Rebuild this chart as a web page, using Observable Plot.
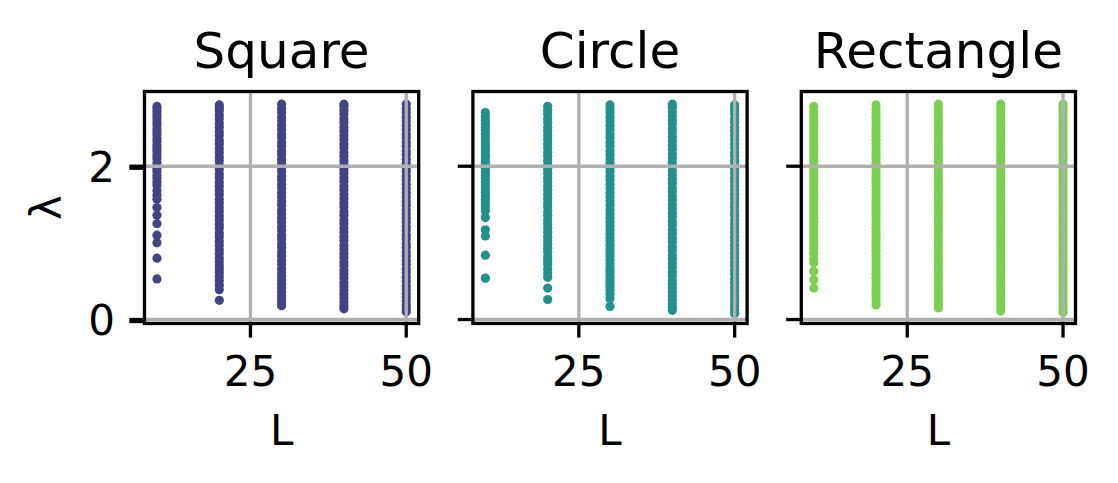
<!DOCTYPE html>
<html><head><meta charset="utf-8">
<script src="https://cdn.jsdelivr.net/npm/d3@7"></script>
<script src="https://cdn.jsdelivr.net/npm/@observablehq/plot@0.6"></script>
<style>html,body{margin:0;padding:0;background:#fff;overflow:hidden}</style>
</head><body><div id="chart"></div>
<script>
// Facets, x categories, ticks, colours
const shapes = ["Square", "Circle", "Rectangle"];
const colors = ["#414487", "#21918c", "#7ad151"];
const Ls = [10, 20, 30, 40, 50];
const xTicks = [25, 50];
const yTicks = [0, 2];

// λ values, one list per (shape, L) column
const squareL10 = [0.53,0.80,1.00,1.10,1.25,1.36,1.46,1.57,1.62,1.68,1.75,1.79,1.84,1.88,1.93,1.97,2.01,2.05,2.10,2.14,2.19,2.23,2.27,2.32,2.36,2.41,2.45,2.49,2.54,2.58,2.63,2.67,2.71,2.75,2.78];
const squareL20 = [0.25,0.39,0.45,0.51,0.56,0.61,0.66,0.70,0.75,0.80,0.86,0.91,0.97,1.02,1.08,1.13,1.19,1.24,1.30,1.35,1.41,1.46,1.52,1.57,1.63,1.68,1.74,1.79,1.85,1.90,1.96,2.01,2.07,2.12,2.18,2.23,2.29,2.34,2.40,2.45,2.51,2.56,2.62,2.67,2.73,2.77,2.80];
const squareL30 = [0.18,0.22,0.27,0.31,0.36,0.41,0.46,0.51,0.56,0.61,0.66,0.72,0.77,0.83,0.88,0.94,0.99,1.05,1.10,1.16,1.21,1.27,1.32,1.38,1.43,1.49,1.54,1.60,1.65,1.71,1.76,1.82,1.87,1.93,1.98,2.04,2.09,2.15,2.20,2.26,2.31,2.37,2.42,2.48,2.53,2.59,2.64,2.70,2.75,2.81];
const squareL40 = [0.14,0.18,0.23,0.28,0.33,0.38,0.43,0.48,0.54,0.59,0.64,0.70,0.75,0.81,0.86,0.92,0.97,1.03,1.08,1.14,1.19,1.25,1.30,1.36,1.41,1.47,1.52,1.58,1.63,1.69,1.74,1.80,1.85,1.91,1.96,2.02,2.07,2.13,2.18,2.24,2.29,2.35,2.40,2.46,2.51,2.57,2.62,2.68,2.73,2.78,2.81];
const squareL50 = [0.10,0.14,0.19,0.24,0.29,0.34,0.39,0.44,0.50,0.55,0.61,0.66,0.72,0.77,0.83,0.88,0.94,0.99,1.05,1.10,1.16,1.21,1.27,1.32,1.38,1.43,1.49,1.54,1.60,1.65,1.71,1.76,1.82,1.87,1.93,1.98,2.04,2.09,2.15,2.20,2.26,2.31,2.37,2.42,2.48,2.53,2.59,2.64,2.70,2.75,2.81];

const circleL10 = [0.54,0.84,1.09,1.17,1.33,1.42,1.47,1.52,1.57,1.61,1.66,1.70,1.75,1.79,1.84,1.88,1.93,1.97,2.02,2.06,2.11,2.15,2.20,2.24,2.29,2.33,2.38,2.42,2.47,2.51,2.56,2.60,2.65,2.70];
const circleL20 = [0.26,0.41,0.55,0.60,0.66,0.72,0.77,0.82,0.88,0.93,0.98,1.03,1.08,1.14,1.19,1.25,1.30,1.36,1.41,1.47,1.52,1.58,1.63,1.69,1.74,1.80,1.85,1.91,1.96,2.02,2.07,2.13,2.18,2.24,2.29,2.35,2.40,2.46,2.51,2.57,2.62,2.68,2.73,2.78];
const circleL30 = [0.17,0.27,0.33,0.38,0.43,0.47,0.51,0.55,0.60,0.64,0.68,0.73,0.78,0.83,0.88,0.92,0.97,1.02,1.07,1.12,1.17,1.22,1.27,1.32,1.38,1.43,1.49,1.54,1.60,1.65,1.71,1.76,1.82,1.87,1.93,1.98,2.04,2.09,2.15,2.20,2.26,2.31,2.37,2.42,2.48,2.53,2.59,2.64,2.70,2.75,2.80];
const circleL40 = [0.12,0.16,0.21,0.26,0.31,0.36,0.41,0.46,0.51,0.57,0.62,0.68,0.73,0.79,0.84,0.90,0.95,1.01,1.06,1.12,1.17,1.23,1.28,1.34,1.39,1.45,1.50,1.56,1.61,1.67,1.72,1.78,1.83,1.89,1.94,2.00,2.05,2.11,2.16,2.22,2.27,2.33,2.38,2.44,2.49,2.55,2.60,2.66,2.71,2.77,2.81];
const circleL50 = [0.08,0.12,0.17,0.22,0.27,0.32,0.37,0.42,0.48,0.53,0.59,0.64,0.70,0.75,0.81,0.86,0.92,0.97,1.03,1.08,1.14,1.19,1.25,1.30,1.36,1.41,1.47,1.52,1.58,1.63,1.69,1.74,1.80,1.85,1.91,1.96,2.02,2.07,2.13,2.18,2.24,2.29,2.35,2.40,2.46,2.51,2.57,2.62,2.68,2.73,2.78,2.80];

const rectangleL10 = [0.41,0.52,0.63,0.74,0.79,0.86,0.92,0.97,1.02,1.07,1.12,1.17,1.22,1.27,1.32,1.37,1.42,1.47,1.52,1.57,1.62,1.67,1.72,1.77,1.82,1.87,1.92,1.97,2.02,2.07,2.12,2.17,2.22,2.27,2.32,2.37,2.42,2.47,2.52,2.57,2.62,2.67,2.72,2.78];
const rectangleL20 = [0.19,0.24,0.29,0.34,0.39,0.44,0.49,0.54,0.59,0.64,0.69,0.74,0.79,0.84,0.89,0.94,0.99,1.04,1.09,1.14,1.19,1.24,1.29,1.34,1.39,1.44,1.49,1.54,1.59,1.64,1.69,1.74,1.79,1.84,1.89,1.94,1.99,2.04,2.09,2.14,2.19,2.24,2.29,2.34,2.39,2.44,2.49,2.54,2.59,2.64,2.69,2.74,2.80];
const rectangleL30 = [0.15,0.20,0.25,0.30,0.35,0.40,0.45,0.50,0.55,0.60,0.65,0.70,0.75,0.80,0.85,0.90,0.95,1.00,1.05,1.10,1.15,1.20,1.25,1.30,1.35,1.40,1.45,1.50,1.55,1.60,1.65,1.70,1.75,1.80,1.85,1.90,1.95,2.00,2.05,2.10,2.15,2.20,2.25,2.30,2.35,2.40,2.45,2.50,2.55,2.60,2.65,2.70,2.75,2.81];
const rectangleL40 = [0.11,0.16,0.21,0.26,0.31,0.36,0.41,0.46,0.51,0.56,0.61,0.66,0.71,0.76,0.81,0.86,0.91,0.96,1.01,1.06,1.11,1.16,1.21,1.26,1.31,1.36,1.41,1.46,1.51,1.56,1.61,1.66,1.71,1.76,1.81,1.86,1.91,1.96,2.01,2.06,2.11,2.16,2.21,2.26,2.31,2.36,2.41,2.46,2.51,2.56,2.61,2.66,2.71,2.76,2.81];
const rectangleL50 = [0.09,0.13,0.18,0.23,0.28,0.33,0.38,0.43,0.48,0.53,0.58,0.63,0.68,0.73,0.78,0.83,0.88,0.93,0.98,1.03,1.08,1.13,1.18,1.23,1.28,1.33,1.38,1.43,1.48,1.53,1.58,1.63,1.68,1.73,1.78,1.83,1.88,1.93,1.98,2.03,2.08,2.13,2.18,2.23,2.28,2.33,2.38,2.43,2.48,2.53,2.58,2.63,2.68,2.73,2.78,2.81];

const columns = [
  [squareL10, squareL20, squareL30, squareL40, squareL50],
  [circleL10, circleL20, circleL30, circleL40, circleL50],
  [rectangleL10, rectangleL20, rectangleL30, rectangleL40, rectangleL50]
];

const rows = [];
shapes.forEach((s, i) => columns[i].forEach((col, j) =>
  col.forEach(v => rows.push({shape: s, L: Ls[j], lambda: v}))));

const LW = 3.3, TICK = 14.6;

const chart = Plot.plot({
  width: 1118, height: 483,
  marginTop: 91, marginRight: 43, marginBottom: 160, marginLeft: 144,
  style: {fontFamily: "'DejaVu Sans', sans-serif", background: "white", color: "black", overflow: "visible"},
  fx: {domain: shapes, paddingInner: 0.165, paddingOuter: 0, axis: null, label: null, round: false},
  x: {domain: [8, 52]},
  y: {domain: [-0.052, 2.975]},
  color: {domain: shapes, range: colors},
  marks: [
    Plot.dot(rows, {fx: "shape", x: "L", y: "lambda", fill: "shape", r: 4.6, stroke: null}),
    Plot.gridX({ticks: xTicks, stroke: "#b0b0b0", strokeOpacity: 1, strokeWidth: LW}),
    Plot.gridY({ticks: yTicks, stroke: "#b0b0b0", strokeOpacity: 1, strokeWidth: LW}),
    Plot.frame({stroke: "black", strokeWidth: LW}),
    Plot.axisX({ticks: xTicks, tickSize: TICK, tickPadding: 18, fontSize: 42, strokeWidth: LW, label: null, tickFormat: d => String(d)}),
    Plot.axisY({ticks: yTicks, tickSize: TICK, strokeWidth: LW, fill: "none", label: null, facetAnchor: null}),
    Plot.axisY({ticks: yTicks, tickSize: TICK, tickPadding: 15, fontSize: 42, strokeWidth: LW, label: null, dy: 2, tickFormat: d => String(d)}),
    Plot.text(shapes, {fx: d => d, text: d => d, frameAnchor: "top", lineAnchor: "middle", textAnchor: "middle", dy: -40, fontSize: 50}),
    Plot.text(shapes, {fx: d => d, text: () => "L", frameAnchor: "bottom", lineAnchor: "middle", textAnchor: "middle", dy: 108, fontSize: 42}),
    Plot.text(["λ"], {fx: () => "Square", text: d => d, frameAnchor: "left", lineAnchor: "middle", textAnchor: "middle", rotate: -90, dx: -97, fontSize: 42})
  ]
});
document.getElementById("chart").appendChild(chart);
</script>
</body></html>
